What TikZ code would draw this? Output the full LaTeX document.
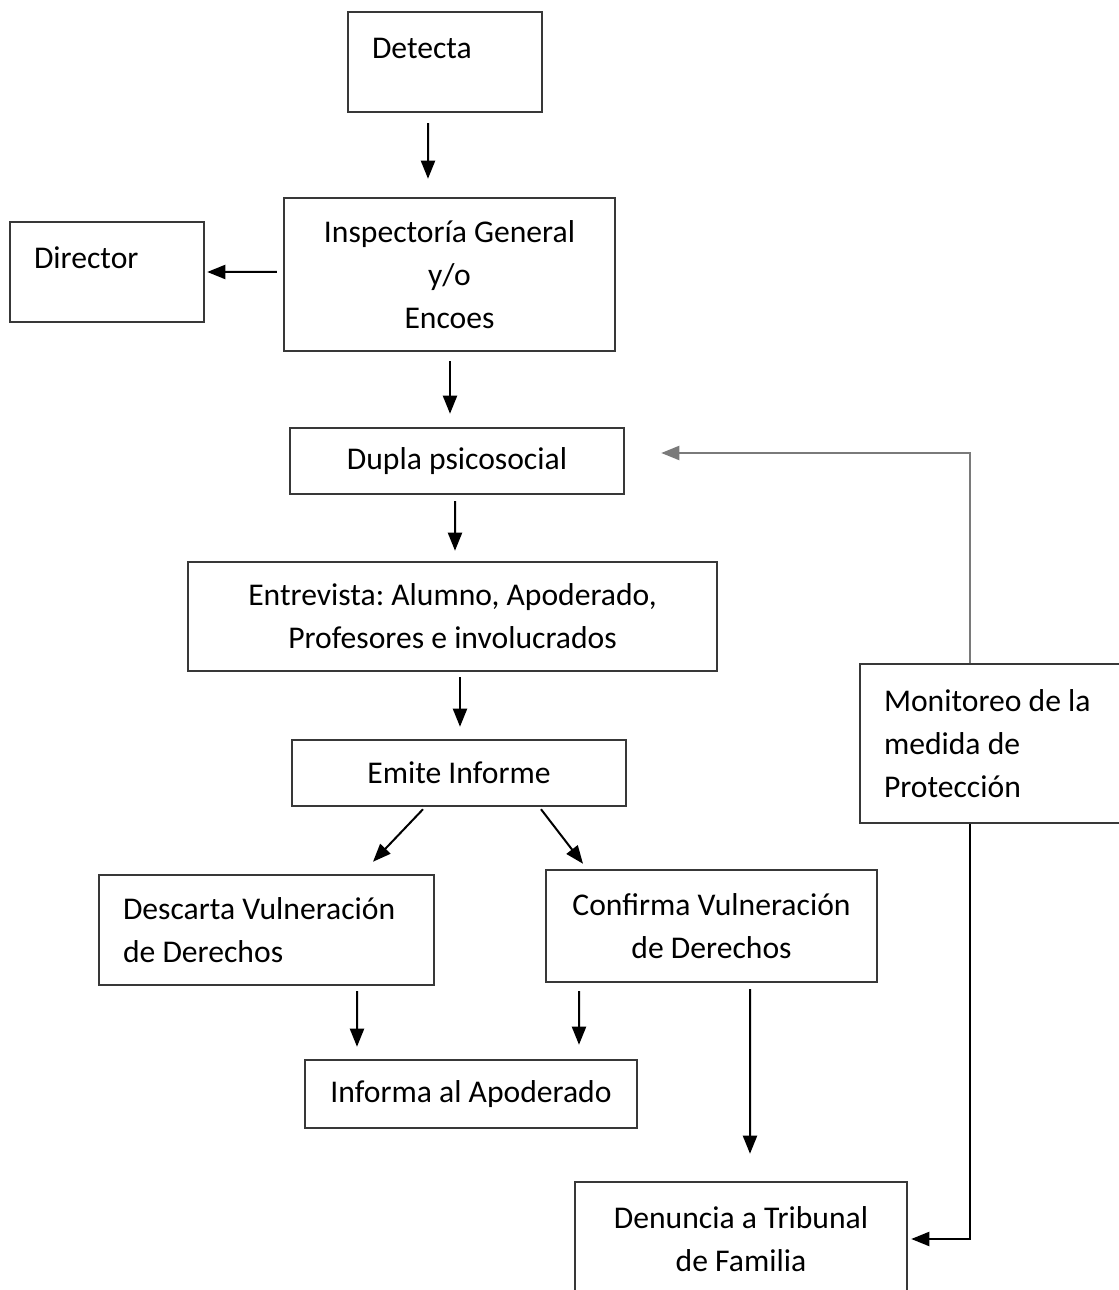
\documentclass[tikz,border=0pt]{standalone}
\usepackage{fontspec}
\setmainfont{Carlito}
\frenchspacing
\usetikzlibrary{arrows.meta}
\definecolor{boxgray}{HTML}{383838}
\definecolor{backgray}{HTML}{7A7A7A}
\tikzset{
  box/.style={draw=boxgray, line width=0.05cm, rectangle, inner sep=0pt, align=center},
  leftbox/.style={box, align=flush left},
  arr/.style={line width=0.04cm, -{Triangle[length=0.36cm,width=0.28cm]}},
}
\begin{document}
\begin{tikzpicture}
                    \useasboundingbox (0,0) rectangle (22.380000,25.800000);
                    {\fontsize{18}{24.5}\selectfont

                    % Marking box Detecta
                    \node [leftbox, minimum width=3.88cm, minimum height=2.00cm, text width=2.92cm, text depth=0.56cm] (detecta) at (8.900000,24.560000) {Detecta};%

                    % Marking box Inspectoria
                    \node [box, minimum width=6.62cm, minimum height=3.06cm] (insp) at (8.990000,20.310000) {Inspectoría General\\ y/o\\ Encoes};%

                    % Marking box Director
                    \node [leftbox, minimum width=3.88cm, minimum height=2.00cm, text width=2.92cm, text depth=0.56cm] (director) at (2.140000,20.360000) {Director};%

                    % Marking box Dupla
                    \node [box, minimum width=6.68cm, minimum height=1.32cm] (dupla) at (9.140000,16.580000) {Dupla psicosocial};%

                    % Marking box Entrevista
                    \node [box, minimum width=10.58cm, minimum height=2.18cm] (entrevista) at (9.050000,13.470000) {Entrevista: Alumno, Apoderado,\\ Profesores e involucrados};%

                    % Marking box Emite
                    \node [box, minimum width=6.68cm, minimum height=1.32cm] (emite) at (9.180000,10.340000) {Emite Informe};%

                    % Marking box Descarta
                    \node [leftbox, minimum width=6.70cm, minimum height=2.20cm, text width=5.74cm] (descarta) at (5.330000,7.200000) {Descarta Vulneración\\ de Derechos};%

                    % Marking box Confirma
                    \node [box, minimum width=6.62cm, minimum height=2.24cm] (confirma) at (14.230000,7.280000) {Confirma Vulneración\\ de Derechos};%

                    % Marking box Informa
                    \node [box, minimum width=6.64cm, minimum height=1.36cm] (informa) at (9.420000,3.920000) {Informa al Apoderado};%

                    % Marking box Denuncia
                    \node [box, minimum width=6.64cm, minimum height=2.28cm] (denuncia) at (14.820000,1.020000) {Denuncia a Tribunal\\ de Familia};%

                    % Marking box Monitoreo
                    \node [leftbox, minimum width=5.32cm, minimum height=3.18cm, text width=4.36cm] (monitoreo) at (19.860000,10.930000) {Monitoreo de la\\ medida de\\ Protección};%

                    % Drawing arrow detecta insp
                    \draw [arr] ([xshift=-0.34cm,yshift=-0.20cm]detecta.south) -- ([xshift=-0.43cm,yshift=0.36cm]insp.north);%

                    % Drawing arrow insp director
                    \draw [arr] ([xshift=-0.12cm,yshift=0.05cm]insp.west) -- ([xshift=0.04cm]director.east);%

                    % Drawing arrow insp dupla
                    \draw [arr] ([xshift=0.01cm,yshift=-0.18cm]insp.south) -- ([xshift=-0.14cm,yshift=0.26cm]dupla.north);%

                    % Drawing arrow dupla entrevista
                    \draw [arr] ([xshift=-0.04cm,yshift=-0.12cm]dupla.south) -- ([xshift=0.05cm,yshift=0.20cm]entrevista.north);%

                    % Drawing arrow entrevista emite
                    \draw [arr] ([xshift=0.15cm,yshift=-0.10cm]entrevista.south) -- ([xshift=0.02cm,yshift=0.24cm]emite.north);%

                    % Drawing arrow emite descarta
                    \draw [arr] ([xshift=-0.72cm,yshift=-0.04cm]emite.south) -- ([xshift=2.13cm,yshift=0.24cm]descarta.north);%

                    % Drawing arrow emite confirma
                    \draw [arr] ([xshift=1.64cm,yshift=-0.04cm]emite.south) -- ([xshift=-2.57cm,yshift=0.10cm]confirma.north);%

                    % Drawing arrow descarta informa
                    \draw [arr] ([xshift=1.81cm,yshift=-0.10cm]descarta.south) -- ([xshift=-2.28cm,yshift=0.24cm]informa.north);%

                    % Drawing arrow confirma informa
                    \draw [arr] ([xshift=-2.65cm,yshift=-0.16cm]confirma.south) -- ([xshift=2.16cm,yshift=0.28cm]informa.north);%

                    % Drawing arrow confirma denuncia
                    \draw [arr] ([xshift=0.77cm,yshift=-0.12cm]confirma.south) -- ([xshift=0.18cm,yshift=0.54cm]denuncia.north);%

                    % Drawing arrow monitoreo dupla
                    \draw [arr, backgray] ([xshift=-0.46cm]monitoreo.north) |- ([xshift=0.72cm,yshift=0.16cm]dupla.east);%

                    % Drawing arrow monitoreo denuncia
                    \draw [arr] ([xshift=-0.46cm]monitoreo.south) |- ([xshift=0.06cm]denuncia.east);%
                    }
\end{tikzpicture}
\end{document}
